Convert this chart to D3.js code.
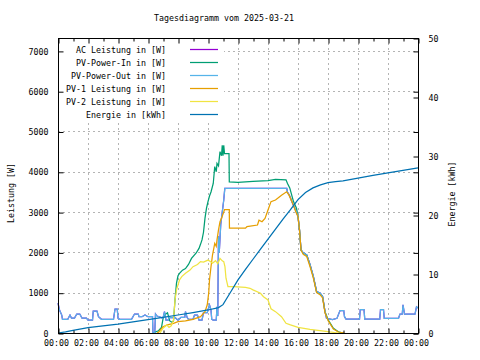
<!DOCTYPE html>
<html>
<head>
<meta charset="utf-8">
<script src="https://cdn.jsdelivr.net/npm/d3@7"></script>
<style>
  body { margin: 0; background: #fff; }
  svg { display: block; }
  text { font-family: "DejaVu Sans Mono", "Liberation Mono", monospace; font-size: 8.3px; fill: #000; }
</style>
</head>
<body>
<svg id="chart" width="480" height="360"></svg>
<script>
// tick labels
const xTickHours = [0, 2, 4, 6, 8, 10, 12, 14, 16, 18, 20, 22, 24];
const xTickLabels = ["00:00", "02:00", "04:00", "06:00", "08:00", "10:00", "12:00",
  "14:00", "16:00", "18:00", "20:00", "22:00", "00:00"];
const powerTicks = [0, 1000, 2000, 3000, 4000, 5000, 6000, 7000];
const energyTicks = [0, 10, 20, 30, 40, 50];

// series: [hour, value]
const pvPowerOut = [
  [0,740],[0.1,570],[0.25,445],[0.3,340],[0.65,340],[0.8,445],[0.9,370],[1.1,370],[1.25,470],[1.45,470],
  [1.6,370],[1.9,370],[2.0,320],[2.3,320],[2.35,545],[2.6,545],[2.7,405],[2.9,340],[3.7,340],[3.8,590],
  [3.95,590],[4.0,370],[4.1,340],[4.9,340],[5.1,470],[5.35,470],[5.4,405],[5.6,405],[5.8,445],[6.0,405],
  [6.3,405],[6.33,0],[6.45,0],[6.5,470],[6.6,420],[7.0,370],[7.1,530],[7.2,320],[7.35,320],[7.4,380],
  [7.6,380],[7.78,390],[8.0,320],[8.2,390],[8.45,390],[8.5,530],[8.6,390],[8.7,340],[9.0,340],[9.1,445],
  [9.3,445],[9.4,320],[9.6,320],[9.7,505],[9.95,505],[10.0,570],[10.1,695],[10.2,570],[10.25,340],[10.35,320],
  [10.55,320],[10.6,650],[10.65,420],[10.7,2400],[10.75,2000],[10.85,2700],[10.95,3000],[11.05,3300],[11.12,3590],
  [15.25,3590],[15.3,3500],[15.45,3400],[15.6,3250],[15.75,3120],[15.9,3000],[16.0,2890],[16.1,2560],[16.2,2060],
  [16.35,1990],[16.58,1940],[16.8,1700],[17.02,1410],[17.24,1030],[17.47,990],[17.64,905],[17.8,530],[17.9,365],
  [18.3,330],[18.6,365],[18.8,555],[19.05,555],[19.1,405],[19.2,345],[20.1,345],[20.15,580],[20.4,580],[20.45,345],
  [21.45,345],[21.5,580],[21.7,580],[21.75,365],[22.7,365],[22.8,470],[22.95,470],[23.0,700],[23.1,470],[23.8,470],
  [23.9,650],[24,620]
];
// AC output follows the inverter output, it only peeks out in a few places
const acLeistung = pvPowerOut;

const pvPowerIn = [
  [6.35,0],[6.5,30],[6.7,55],[6.9,140],[7.0,350],[7.1,450],[7.3,500],[7.45,300],[7.6,265],[7.7,300],
  [7.8,820],[7.9,1240],[8.0,1420],[8.1,1480],[8.3,1560],[8.5,1600],[8.7,1700],[8.9,1850],[9.2,1980],[9.4,2100],
  [9.5,2200],[9.6,2310],[9.7,2500],[9.8,2850],[9.9,3100],[10.0,3260],[10.1,3400],[10.2,3500],[10.35,3710],
  [10.45,4130],[10.55,4000],[10.6,4210],[10.7,4150],[10.8,4500],[10.9,4400],[10.95,4660],[11.0,4400],[11.05,4660],
  [11.1,4450],[11.4,4450],[11.42,3750],[12,3740],[13,3760],[14,3780],[14.5,3810],[15.2,3800],[15.3,3710],
  [15.45,3600],[15.7,3260],[15.9,3095],[16.0,2890],[16.1,2560],[16.2,2060],[16.35,1985],[16.58,1935],[16.8,1690],
  [17.02,1400],[17.24,1025],[17.47,985],[17.64,900],[17.8,530],[18.02,320],[18.36,115],[18.69,30],[19.0,0]
];

const pv1Leistung = [
  [6.6,0],[6.7,20],[7.0,155],[7.3,200],[7.7,240],[8.0,280],[8.5,300],[9.0,340],[9.5,405],[9.8,530],
  [9.95,700],[10.05,1000],[10.1,1315],[10.2,1645],[10.3,1935],[10.45,2225],[10.55,2150],[10.6,2310],[10.7,2560],
  [10.8,2760],[10.9,2845],[11.0,2950],[11.1,3060],[11.42,3060],[11.43,2600],[12.5,2600],[12.6,2640],[13.3,2680],
  [13.4,2800],[13.6,2760],[13.8,2845],[14.0,3050],[14.2,3260],[14.5,3300],[14.9,3420],[15.24,3505],[15.4,3420],
  [15.6,3260],[15.73,3135],[15.85,3010],[16.0,2890],[16.1,2560],[16.2,2060],[16.35,1950],[16.58,1900],[16.8,1650],
  [17.02,1370],[17.24,1000],[17.47,950],[17.64,870],[17.8,500],[18.02,300],[18.36,100],[18.69,25],[19.1,0]
];

const pv2Leistung = [
  [6.8,0],[7.0,120],[7.25,200],[7.4,140],[7.55,180],[7.7,320],[7.8,820],[7.9,1070],[8.1,1315],[8.25,1400],
  [8.5,1480],[8.8,1560],[9.0,1645],[9.3,1700],[9.5,1770],[9.7,1760],[10.0,1810],[10.2,1760],[10.3,1730],
  [10.5,1795],[10.65,1720],[10.8,1850],[10.95,1790],[11.05,1770],[11.13,1645],[11.2,1360],[11.33,1150],
  [11.7,1150],[12.5,1130],[12.8,1110],[13.0,1070],[13.5,985],[13.7,900],[14.0,820],[14.2,600],[14.5,530],
  [14.9,405],[15.2,240],[15.5,200],[16.0,140],[16.8,90],[17.6,55],[18.1,25],[18.7,0]
];

const energie = [
  [0,0],[0.5,0.2],[1,0.45],[2,0.9],[3,1.2],[4,1.5],[5,1.9],[6,2.25],[7,2.65],[8,3.05],[9,3.45],[10,3.9],
  [10.7,4.3],[11,4.8],[11.5,6.9],[12,9.0],[12.5,10.8],[13,12.5],[13.5,14.2],[14,15.9],[14.5,17.6],[15,19.3],
  [15.5,20.9],[16,22.6],[16.5,23.8],[17,24.6],[17.5,25.1],[18,25.5],[18.5,25.65],[19,25.8],[20,26.25],
  [21,26.7],[22,27.15],[23,27.55],[24,28.0]
];

const seriesNames = ["AC Leistung in [W]", "PV-Power-In in [W]", "PV-Power-Out in [W]",
  "PV-1 Leistung in [W]", "PV-2 Leistung in [W]", "Energie in [kWh]"];
const seriesColors = ["#9400d3", "#009e73", "#56b4e9", "#e69f00", "#f0e442", "#0072b2"];

const svg = d3.select("#chart");
const plot = { left: 58, right: 418, top: 38, bottom: 333 };

const x = d3.scaleLinear().domain([0, 24]).range([plot.left, plot.right]);
const yPower = d3.scaleLinear().domain([0, 7320]).range([plot.bottom, plot.top]);
const yEnergy = d3.scaleLinear().domain([0, 50]).range([plot.bottom, plot.top]);

// title
svg.append("text").attr("x", 224).attr("y", 21).attr("text-anchor", "middle")
  .text("Tagesdiagramm vom 2025-03-21");

// grid
const grid = svg.append("g").attr("stroke", "#b4b4b4").attr("stroke-dasharray", "2,3").attr("stroke-width", 1);
grid.selectAll(".gx").data(xTickHours.slice(1, -1)).enter().append("line")
  .attr("x1", d => x(d) + 0.5).attr("x2", d => x(d) + 0.5).attr("y1", plot.top).attr("y2", plot.bottom);
grid.selectAll(".gy").data(powerTicks.slice(1)).enter().append("line")
  .attr("x1", plot.left).attr("x2", plot.right)
  .attr("y1", d => Math.round(yPower(d)) + 0.5).attr("y2", d => Math.round(yPower(d)) + 0.5);

// opaque key area
svg.append("rect").attr("x", plot.left + 1).attr("y", plot.top + 1).attr("width", 165).attr("height", 82).attr("fill", "#fff");

// data lines
const powerLine = d3.line().x(d => x(d[0])).y(d => yPower(d[1]));
const energyLine = d3.line().x(d => x(d[0])).y(d => yEnergy(d[1]));
const seriesData = [acLeistung, pvPowerIn, pvPowerOut, pv1Leistung, pv2Leistung];
seriesData.forEach((s, i) => {
  svg.append("path").datum(s).attr("fill", "none").attr("stroke", seriesColors[i])
    .attr("stroke-width", 1.25).attr("d", powerLine);
});
svg.append("path").datum(energie).attr("fill", "none").attr("stroke", seriesColors[5])
  .attr("stroke-width", 1.25).attr("d", energyLine);

// frame
svg.append("rect").attr("x", plot.left + 0.5).attr("y", plot.top + 0.5)
  .attr("width", plot.right - plot.left).attr("height", plot.bottom - plot.top)
  .attr("fill", "none").attr("stroke", "#000");

// axes
const fmt = d => xTickLabels[xTickHours.indexOf(d)];
const xAxis = svg.append("g").attr("transform", `translate(0.5,${plot.bottom + 0.5})`)
  .call(d3.axisBottom(x).tickValues(xTickHours).tickFormat(fmt).tickSize(-5).tickPadding(7));
xAxis.selectAll("text").attr("dx", -2.5);
svg.append("g").attr("transform", `translate(0.5,${plot.bottom + 0.5})`)
  .call(d3.axisBottom(x).tickValues(d3.range(1, 24, 2)).tickFormat("").tickSize(-3));
svg.append("g").attr("transform", `translate(0.5,${plot.top + 0.5})`)
  .call(d3.axisTop(x).tickValues(xTickHours).tickFormat("").tickSize(-5));
svg.append("g").attr("transform", `translate(0.5,${plot.top + 0.5})`)
  .call(d3.axisTop(x).tickValues(d3.range(1, 24, 2)).tickFormat("").tickSize(-3));

svg.append("g").attr("transform", `translate(${plot.left + 0.5},0.5)`)
  .call(d3.axisLeft(yPower).tickValues(powerTicks).tickFormat(d3.format("d")).tickSize(-5).tickPadding(10));
svg.append("g").attr("transform", `translate(${plot.right + 0.5},0.5)`)
  .call(d3.axisRight(yPower).tickValues(powerTicks).tickFormat("").tickSize(-5));
svg.append("g").attr("transform", `translate(${plot.right + 0.5},0.5)`)
  .call(d3.axisRight(yEnergy).tickValues(energyTicks).tickFormat(d3.format("d")).tickSize(-5).tickPadding(10));

svg.selectAll(".domain").remove();
svg.selectAll(".tick text").style("font-family", "DejaVu Sans Mono").style("font-size", "8.3px");

// axis titles
svg.append("text").attr("transform", "translate(11,193) rotate(-90)").attr("text-anchor", "middle")
  .attr("dominant-baseline", "central").text("Leistung [W]");
svg.append("text").attr("transform", "translate(452,194) rotate(-90)").attr("text-anchor", "middle")
  .attr("dominant-baseline", "central").text("Energie [kWh]");

// key
const key = svg.append("g");
seriesNames.forEach((name, i) => {
  const cy = 49.5 + i * 13;
  key.append("text").attr("x", 166).attr("y", cy + 3).attr("text-anchor", "end").text(name);
  key.append("line").attr("x1", 190).attr("x2", 218).attr("y1", cy).attr("y2", cy)
    .attr("stroke", seriesColors[i]).attr("stroke-width", 1.25);
});
</script>
</body>
</html>
